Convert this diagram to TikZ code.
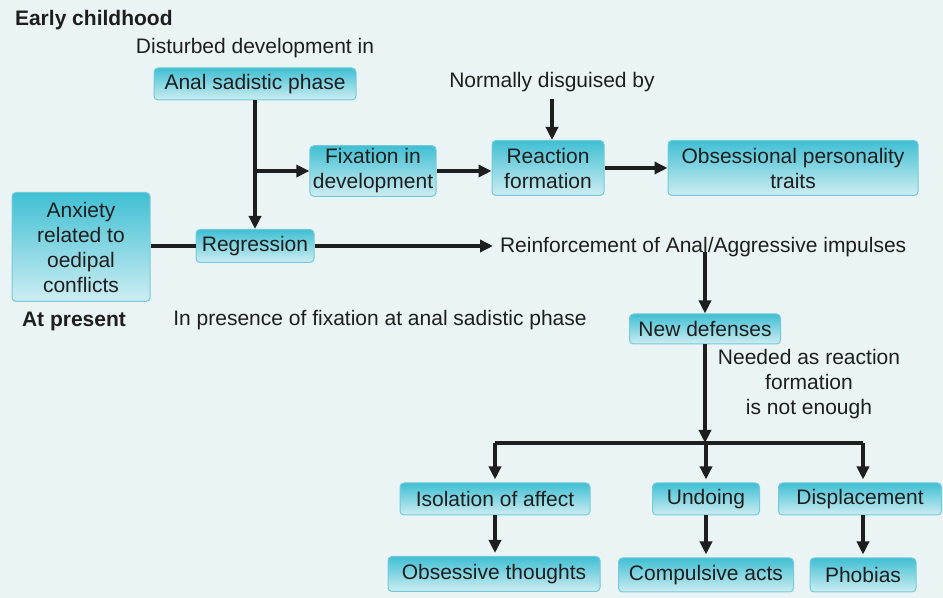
\documentclass[tikz,border=0pt]{standalone}
\usepackage{fontspec}
\setmainfont{Liberation Sans}
\usetikzlibrary{arrows.meta}
\definecolor{bgcol}{HTML}{EAF4F4}
\definecolor{boxtop}{HTML}{40BFD3}
\definecolor{boxbot}{HTML}{CDEDF2}
\definecolor{boxedge}{HTML}{74CADA}
\definecolor{inkcol}{HTML}{1E1E1E}

\begin{document}
\begin{tikzpicture}[x=0.5pt, y=-0.5pt,
    font=\fontsize{10.5}{12.5}\selectfont,
    box/.style={rounded corners=2pt, top color=boxtop, bottom color=boxbot,
      draw=boxedge, line width=0.5pt, align=center, inner sep=1.5pt, text=inkcol},
    lbl/.style={text=inkcol, align=center},
    arr/.style={-{Triangle[length=6.5pt,width=6pt]}, line width=1.7pt, draw=inkcol},
    plain/.style={line width=1.7pt, draw=inkcol}]
  % Page
  \useasboundingbox (0,0) rectangle (943,598);
  \fill[bgcol] (0,0) rectangle (943,598);

  % Early childhood
  \node[lbl, font=\fontsize{10.5}{12.5}\selectfont\bfseries, anchor=west] (early) at (8,20) {Early childhood};
  \node[lbl] (dist) at (255,48) {Disturbed development in};
  \node[box, minimum width=101pt, minimum height=16pt] (anal) at (255,84) {Anal sadistic phase};
  \node[box, minimum width=63pt, minimum height=25pt] (fix) at (373,171) {Fixation in\\development};
  \node[lbl] (norm) at (552,82) {Normally disguised by};
  \node[box, minimum width=56pt, minimum height=27.5pt] (react) at (548,168) {Reaction\\formation};
  \node[box, minimum width=125pt, minimum height=27.5pt] (obs) at (793,168) {Obsessional personality\\traits};

  % At present
  \node[box, minimum width=69pt, minimum height=54.5pt] (anx) at (81,247) {Anxiety\\related to\\oedipal\\conflicts};
  \node[lbl, font=\fontsize{10.5}{12.5}\selectfont\bfseries] (pres) at (74,321) {At present};
  \node[box, minimum width=59pt, minimum height=16.5pt] (regr) at (255,246) {Regression};
  \node[lbl, anchor=west] (reinf) at (493,247) {Reinforcement of Anal/Aggressive impulses};
  \node[lbl] (fixpres) at (380,320) {In presence of fixation at anal sadistic phase};
  \node[box, minimum width=75.5pt, minimum height=15pt] (newdef) at (705,329) {New defenses};
  \node[lbl] (need) at (809,384) {Needed as reaction\\formation\\is not enough};

  % Defenses and what they give
  \node[box, minimum width=95pt, minimum height=16pt] (iso) at (495,499) {Isolation of affect};
  \node[box, minimum width=53.5pt, minimum height=16pt] (undo) at (706,499) {Undoing};
  \node[box, minimum width=81.5pt, minimum height=16pt] (displ) at (860,499) {Displacement};
  \node[box, minimum width=106pt, minimum height=17.5pt] (obth) at (494,574) {Obsessive thoughts};
  \node[box, minimum width=87.5pt, minimum height=17pt] (comp) at (706,575) {Compulsive acts};
  \node[box, minimum width=53pt, minimum height=17pt] (phob) at (863,575) {Phobias};

  % Arrows, top part
  \draw[arr] (anal.south) -- (regr.north);
  \draw[arr] (anal.south |- fix.west) -- (fix.west);
  \draw[arr] (fix.east) -- (react.west |- fix.east);
  \draw[arr] (norm.south) -- (norm.south |- react.north);
  \draw[arr] (react.east) -- (obs.west);

  % Arrows, lower part
  \draw[plain] (anx.east |- regr.west) -- (regr.west);
  \draw[arr] (regr.east) -- (reinf.west |- regr.east);
  \draw[arr] (newdef.north |- reinf.base) -- (newdef.north);
  \coordinate (bar) at (705,443);
  \draw[arr] (newdef.south) -- (bar);
  \draw[plain] (iso.north |- bar) -- (phob.north |- bar);
  \foreach \d in {iso, undo}
    \draw[arr, shorten >=1.5pt] (\d.north |- bar) -- (\d.north);
  \draw[arr, shorten >=1.5pt] (phob.north |- bar) -- (phob.north |- displ.north);
  \draw[arr, shorten >=1.5pt] (iso.south) -- (iso.south |- obth.north);
  \draw[arr, shorten >=1.5pt] (undo.south) -- (undo.south |- comp.north);
  \draw[arr, shorten >=1.5pt] (phob.north |- displ.south) -- (phob.north);
\end{tikzpicture}
\end{document}
